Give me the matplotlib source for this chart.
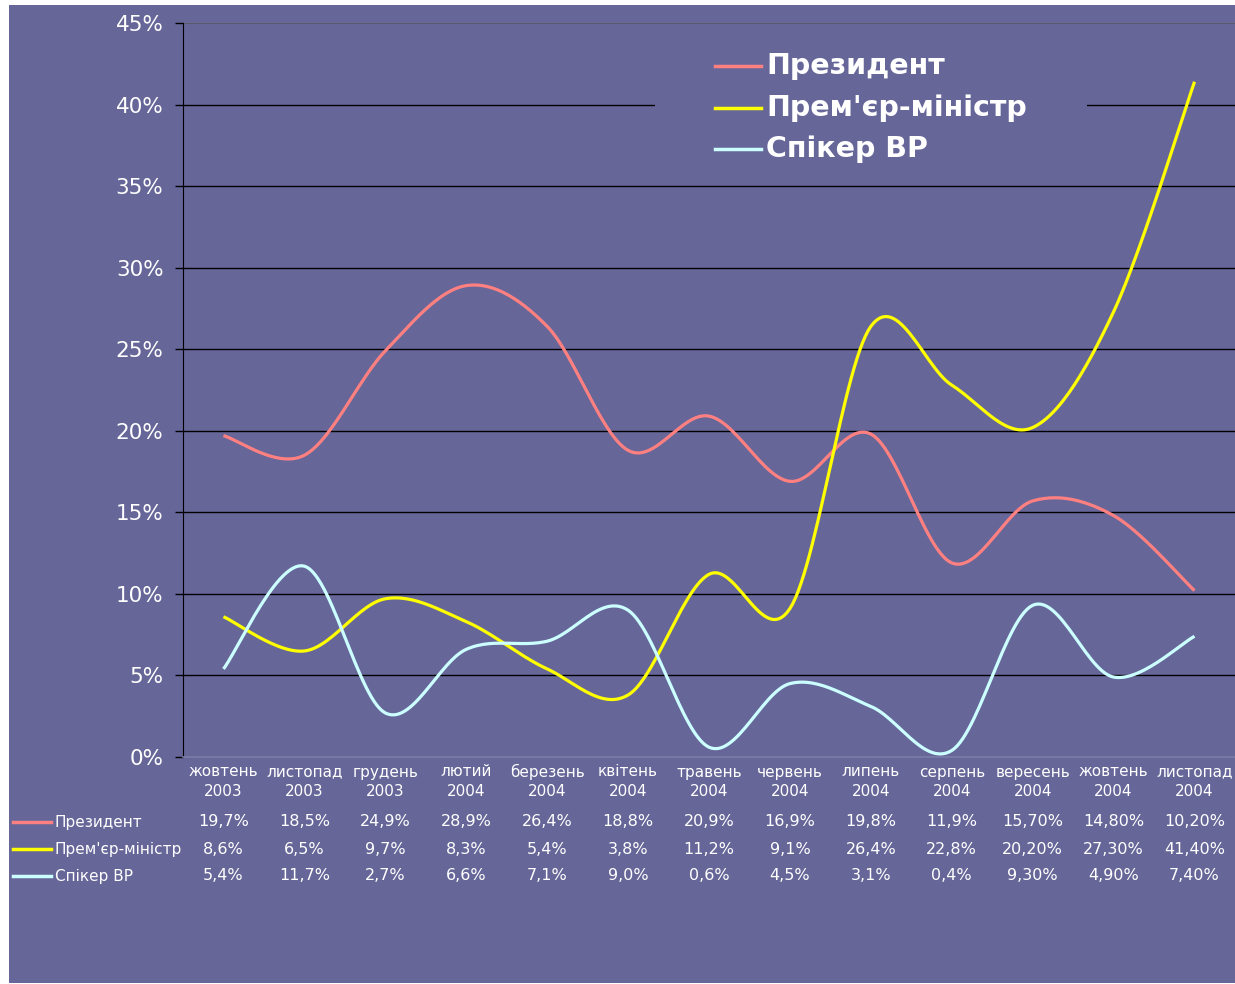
import numpy as np
import matplotlib
matplotlib.use("Agg")
import matplotlib.pyplot as plt
from matplotlib.lines import Line2D
from matplotlib.patches import Rectangle

months = ["жовтень\n2003", "листопад\n2003", "грудень\n2003", "лютий\n2004",
          "березень\n2004", "квітень\n2004", "травень\n2004", "червень\n2004",
          "липень\n2004", "серпень\n2004", "вересень\n2004", "жовтень\n2004",
          "листопад\n2004"]
series_names = ["Президент", "Прем'єр-міністр", "Спікер ВР"]
president = [19.7, 18.5, 24.9, 28.9, 26.4, 18.8, 20.9, 16.9, 19.8, 11.9, 15.7, 14.8, 10.2]
premier = [8.6, 6.5, 9.7, 8.3, 5.4, 3.8, 11.2, 9.1, 26.4, 22.8, 20.2, 27.3, 41.4]
speaker = [5.4, 11.7, 2.7, 6.6, 7.1, 9.0, 0.6, 4.5, 3.1, 0.4, 9.3, 4.9, 7.4]
president_lbl = ["19,7%", "18,5%", "24,9%", "28,9%", "26,4%", "18,8%", "20,9%", "16,9%",
                 "19,8%", "11,9%", "15,70%", "14,80%", "10,20%"]
premier_lbl = ["8,6%", "6,5%", "9,7%", "8,3%", "5,4%", "3,8%", "11,2%", "9,1%",
               "26,4%", "22,8%", "20,20%", "27,30%", "41,40%"]
speaker_lbl = ["5,4%", "11,7%", "2,7%", "6,6%", "7,1%", "9,0%", "0,6%", "4,5%",
               "3,1%", "0,4%", "9,30%", "4,90%", "7,40%"]
y_ticks = [0, 5, 10, 15, 20, 25, 30, 35, 40, 45]

colors = ["#FF8080", "#FFFF00", "#CCFFFF"]
BG = "#666699"
W, H = 1235, 984


def fx(px):
    return px / W


def fy(py):
    return 1 - py / H


def smooth(y, n=30):
    y = np.asarray(y, float)
    x = np.arange(len(y), dtype=float)
    P = np.column_stack([x, y])
    Pe = np.vstack([P[0], P, P[-1]])
    out = []
    t = np.linspace(0, 1, n)[:, None]
    for i in range(len(P) - 1):
        p0, p1, p2, p3 = Pe[i], Pe[i + 1], Pe[i + 2], Pe[i + 3]
        c1 = p1 + (p2 - p0) / 6
        c2 = p2 - (p3 - p1) / 6
        seg = ((1 - t) ** 3) * p1 + 3 * ((1 - t) ** 2) * t * c1 + 3 * (1 - t) * t ** 2 * c2 + t ** 3 * p2
        out.append(seg if i == 0 else seg[1:])
    s = np.vstack(out)
    return s[:, 0], s[:, 1]


fig = plt.figure(figsize=(W / 100, H / 100), dpi=100, facecolor="white")
fig.add_artist(Rectangle((fx(9), fy(983)), fx(1235) - fx(9), fy(5) - fy(983),
                         transform=fig.transFigure, facecolor=BG, edgecolor="none", zorder=-10))

ax = fig.add_axes([fx(183), fy(757), 1 - fx(183), fy(23) - fy(757)])
ax.set_facecolor("none")
n = len(months)
ax.set_xlim(-0.5, n - 0.5)
ax.set_ylim(0, 45)
for v in y_ticks[1:-1]:
    ax.axhline(v, color="black", lw=1.0, zorder=1)
ax.axhline(45, color="#5a5a6a", lw=1.5, zorder=1)
ax.set_yticks(y_ticks)
ax.set_yticklabels([f"{v}%" for v in y_ticks], color="white", fontsize=15.5)
ax.tick_params(axis="y", length=6, width=1, color="black", pad=8)
ax.set_xticks([])
for s in ["top", "right"]:
    ax.spines[s].set_visible(False)
ax.spines["left"].set_color("black")
ax.spines["bottom"].set_color("#7c7ca8")
ax.spines["bottom"].set_linewidth(1.2)

for data, c in zip([president, premier, speaker], colors):
    xs, ys = smooth(data)
    ax.plot(xs, ys, color=c, lw=2.3, zorder=3, solid_capstyle="butt")

# legend box inside plot
fig.add_artist(Rectangle((fx(655), fy(178)), fx(1087) - fx(655), fy(35) - fy(178),
                         transform=fig.transFigure, facecolor=BG, edgecolor="none", zorder=1))
for i, (name, c) in enumerate(zip(series_names, colors)):
    yy = fy(66 + i * 41.5)
    fig.add_artist(Line2D([fx(715), fx(761)], [yy, yy], color=c, lw=2.5,
                          transform=fig.transFigure, zorder=2))
    fig.text(fx(766), yy, name, color="white", fontsize=20.5, fontweight="bold",
             va="center", ha="left", zorder=2)

# data table
fs = 11
cw = (1235 - 183) / n
centers = [183 + cw * (i + 0.5) for i in range(n)]
for i, m in enumerate(months):
    a, b = m.split("\n")
    fig.text(fx(centers[i]), fy(772), a, color="white", fontsize=fs, ha="center", va="center")
    fig.text(fx(centers[i]), fy(792), b, color="white", fontsize=fs, ha="center", va="center")
rows = [president_lbl, premier_lbl, speaker_lbl]
row_y = [822, 849, 876]
for r, (lbls, name, c) in enumerate(zip(rows, series_names, colors)):
    yy = fy(row_y[r])
    fig.add_artist(Line2D([fx(13), fx(51)], [yy, yy], color=c, lw=2.5,
                          transform=fig.transFigure))
    fig.text(fx(55), yy, name, color="white", fontsize=fs, ha="left", va="center")
    for i, t in enumerate(lbls):
        fig.text(fx(centers[i]), yy, t, color="white", fontsize=fs + 0.5, ha="center", va="center")

fig.savefig("out.png", dpi=100, facecolor="white")
